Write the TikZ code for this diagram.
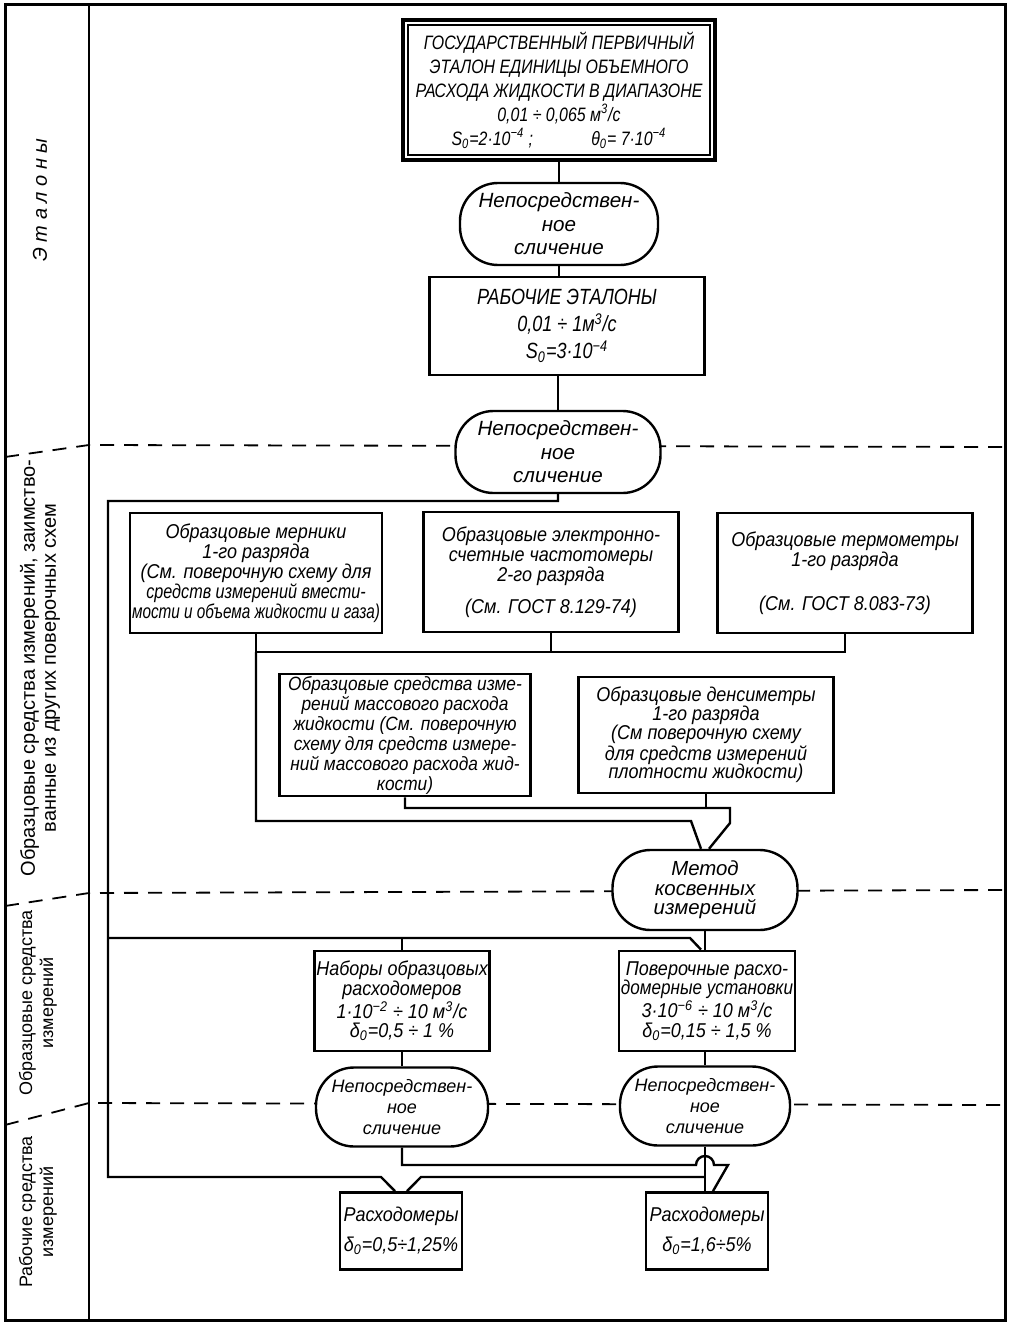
\documentclass[tikz,border=0pt]{standalone}
\usepackage{fontspec}
\setmainfont{Liberation Sans}[FakeStretch=0.9]
\newfontfamily\widefont{Liberation Sans}
\newfontfamily\capsfont{Liberation Sans}[FakeStretch=0.82]
\usepackage{tikz}
\usetikzlibrary{positioning,calc}

\newcommand{\up}[1]{\textsuperscript{#1}}
\newcommand{\dn}[1]{\textsubscript{#1}}
\newcommand{\squeeze}[2]{\scalebox{#1}[1]{#2}}

\begin{document}
\begin{tikzpicture}[x=0.5pt,y=-0.5pt,font=\itshape\fontsize{10}{10}\selectfont]
  \tikzstyle{box}=[draw,line width=1.4pt,fill=white,align=center,inner sep=1pt]
  \tikzstyle{oval}=[draw,line width=1.2pt,fill=white,align=center,rounded corners=19pt,inner sep=1pt]
  \tikzstyle{wire}=[line width=1.2pt]
  \tikzstyle{sep}=[line width=0.9pt,dash pattern=on 7pt off 5pt]
  \tikzstyle{side}=[rotate=90,align=center,font=\widefont\fontsize{10}{10.5}\selectfont]

  \useasboundingbox (0,0) rectangle (1019,1332);

  % frame and rows
  \draw[line width=1.5pt] (5,5) rectangle (1005,1320);
  \draw[line width=1.3pt] (89,5) -- (89,1320);
  \draw[sep] (5,457) -- (89,445) -- (1005,447);
  \draw[sep] (5,906) -- (89,893) -- (1005,890);
  \draw[sep] (5,1125) -- (89,1103) -- (1005,1105);

  \node[side,font=\widefont\itshape\fontsize{10}{10.5}\selectfont] (ryad1) at (40,200) {Э т а л о н ы};
  \node[side] (ryad2) at (40,668) {Образцовые средства измерений, заимство-\\ванные из других поверочных схем};
  \node[side,font=\widefont\fontsize{9}{10.5}\selectfont] (ryad3) at (38,1003) {Образцовые средства\\измерений};
  \node[side,font=\widefont\fontsize{9}{10.5}\selectfont] (ryad4) at (38,1212) {Рабочие средства\\измерений};

  % nodes
  \node[box,line width=2pt,minimum width=156pt,minimum height=70pt,font=\capsfont\itshape\fontsize{9.7}{12}\selectfont] (etal) at (559,90)
    {ГОСУДАРСТВЕННЫЙ ПЕРВИЧНЫЙ\\ЭТАЛОН ЕДИНИЦЫ ОБЪЕМНОГО\\РАСХОДА ЖИДКОСТИ В ДИАПАЗОНЕ\\0,01 ÷ 0,065 м\up{3}/с\\S\dn{0}=2·10\up{−4} ;\hspace{3em}θ\dn{0}= 7·10\up{−4}};
  \draw[line width=0.9pt] ([shift={(3.5pt,-3.5pt)}]etal.north west) rectangle ([shift={(-3.5pt,3.5pt)}]etal.south east);
  \node[oval,minimum width=99pt,minimum height=41pt,font=\widefont\itshape\fontsize{10.3}{11.7}\selectfont] (st1) at (559,224) {Непосредствен-\\ное\\сличение};
  \node[box,minimum width=137.5pt,minimum height=49pt,font=\capsfont\itshape\fontsize{11}{13.5}\selectfont] (rab) at (567,326)
    {РАБОЧИЕ ЭТАЛОНЫ\\0,01 ÷ 1м\up{3}/с\\S\dn{0}=3·10\up{−4}};
  \node[oval,minimum width=102.5pt,minimum height=41pt,font=\widefont\itshape\fontsize{10.3}{11.7}\selectfont] (st2) at (558,452) {Непосредствен-\\ное\\сличение};

  \node[box,minimum width=125pt,minimum height=60pt] (mern) at (256,573)
    {Образцовые мерники\\1-го разряда\\(См. поверочную схему для\\\squeeze{0.9}{средств измерений вмести-}\\\squeeze{0.85}{мости и объема жидкости и газа)}};
  \node[box,minimum width=127.5pt,minimum height=60pt] (chast) at (551,572)
    {Образцовые электронно-\\счетные частотомеры\\2-го разряда\\[6pt](См. ГОСТ 8.129-74)};
  \node[box,minimum width=127.5pt,minimum height=60pt] (term) at (845,573)
    {Образцовые термометры\\1-го разряда\\[12pt](См. ГОСТ 8.083-73)};
  \node[box,minimum width=125.5pt,minimum height=59.5pt,font=\itshape\fontsize{9.6}{8.4}\selectfont] (mass) at (405,735)
    {Образцовые средства изме-\\рений массового расхода\\жидкости (См. поверочную\\схему для средств измере-\\ний массового расхода жид-\\кости)};
  \node[box,minimum width=127.5pt,minimum height=58pt,font=\itshape\fontsize{10}{9.4}\selectfont] (dens) at (706,735)
    {Образцовые денсиметры\\1-го разряда\\(См поверочную схему\\для средств измерений\\плотности жидкости)};
  \node[oval,minimum width=92.5pt,minimum height=40pt,font=\widefont\itshape\fontsize{10.2}{9.8}\selectfont] (met) at (705,890) {Метод\\косвенных\\измерений};

  \node[box,minimum width=87.5pt,minimum height=50pt,font=\itshape\fontsize{10}{9.8}\selectfont] (nab) at (402,1001)
    {Наборы образцовых\\расходомеров\\1·10\up{−2} ÷ 10 м\up{3}/с\\δ\dn{0}=0,5 ÷ 1 \%};
  \node[box,minimum width=87.5pt,minimum height=50pt,font=\itshape\fontsize{10}{9.8}\selectfont] (pov) at (707,1001)
    {Поверочные расхо-\\\squeeze{0.95}{домерные установки}\\3·10\up{−6} ÷ 10 м\up{3}/с\\δ\dn{0}=0,15 ÷ 1,5 \%};
  \node[oval,minimum width=86pt,minimum height=39.5pt,font=\widefont\itshape\fontsize{9}{10.5}\selectfont] (st3) at (402,1107) {Непосредствен-\\ное\\сличение};
  \node[oval,minimum width=85pt,minimum height=39.5pt,font=\widefont\itshape\fontsize{9}{10.5}\selectfont] (st4) at (705,1106) {Непосредствен-\\ное\\сличение};
  \node[box,minimum width=61pt,minimum height=38.5pt] (rs1) at (401,1231) {Расходомеры\\[5pt]δ\dn{0}=0,5÷1,25\%};
  \node[box,minimum width=61pt,minimum height=38.5pt] (rs2) at (707,1231) {Расходомеры\\[5pt]δ\dn{0}=1,6÷5\%};

  % bends
  \coordinate (lftTop) at (108,501);
  \coordinate (lftMid) at (108,938);
  \coordinate (lftBot) at (108,1177);
  \coordinate (busL) at (256,652);
  \coordinate (busR) at (845,652);
  \coordinate (metL) at (691,821);
  \coordinate (metR) at (730,808);
  \coordinate (povL) at (690,938);
  \coordinate (rs1L) at (381,1177);
  \coordinate (rs1R) at (421,1177);
  \coordinate (hopL) at (696,1165);
  \coordinate (rs2R) at (728,1165);

  % connectors
  \draw[wire] (etal.south) -- (st1.north);
  \draw[wire] (st1.south) -- (st1.south |- rab.north);
  \draw[wire] (st2.north |- rab.south) -- (st2.north);
  \draw[wire] (st2.south) |- (lftTop) -- (lftBot) -- (rs1L) -- ([xshift=-3pt]rs1.north);
  \draw[wire] ([xshift=3pt]rs1.north) -- (rs1R) -- (st4.south |- rs1R);
  \draw[wire] (mern.south) -- (busL) -- (busR) -- (term.south);
  \draw[wire] (chast.south) -- (chast.south |- busL);
  \draw[wire] (busL) |- (metL) -- ([xshift=-2pt]met.north);
  \draw[wire] (mass.south) |- (metR) -- ++(0,15) -- ([xshift=2pt]met.north);
  \draw[wire] (dens.south) -- (dens.south |- metR);
  \draw[wire] (met.south) -- (met.south |- pov.north);
  \draw[wire] (lftMid) -- (povL) -- ([xshift=-3pt]pov.north);
  \draw[wire] (nab.north |- lftMid) -- (nab.north);
  \draw[wire] (nab.south) -- (st3.north);
  \draw[wire] (st4.south |- pov.south) -- (st4.north);
  \draw[wire] (st3.south) |- (hopL) arc[start angle=180,end angle=0,radius=4.5pt] -- (rs2R) -- ([xshift=3pt]rs2.north);
  \draw[wire] (st4.south) -- (st4.south |- rs2.north);
\end{tikzpicture}
\end{document}
